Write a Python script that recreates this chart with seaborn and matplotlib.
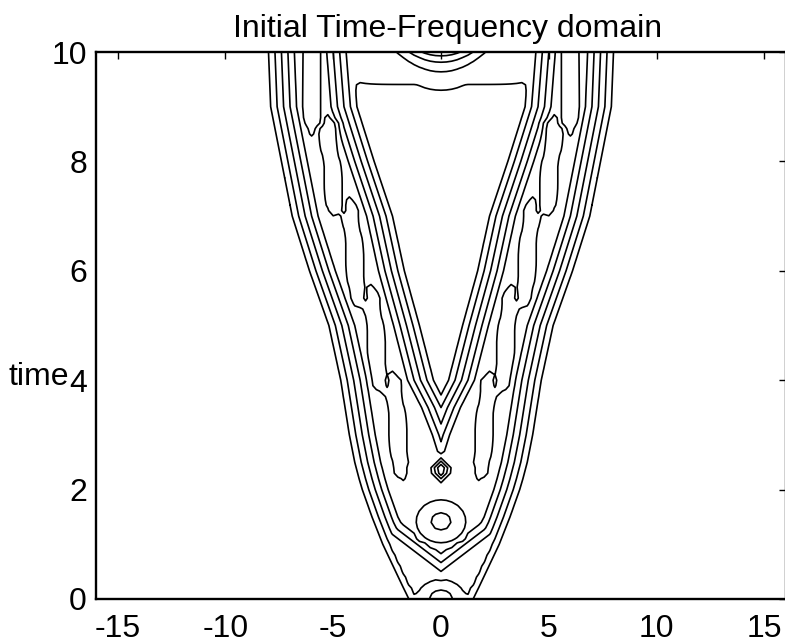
import numpy as np
import matplotlib
matplotlib.use("Agg")
import matplotlib.pyplot as plt
import seaborn as sns

# ---------------- values ----------------
title = "Initial Time-Frequency domain"
ylabel = "time"
x_ticks = [-15, -10, -5, 0, 5, 10, 15]
y_ticks = [0, 2, 4, 6, 8, 10]
x_range = [-16, 16]
t_range = [0, 10]

# lowest-level edge of the left lobe (outer side) and its inner side, per time
edge_t = [0, 0.5, 1, 1.5, 2, 2.2, 2.5, 3, 3.5, 4, 5, 6, 7, 8, 9, 10]
outer_edge = [-1.5, -2.1, -2.7, -3.2, -3.65, -3.8, -4.0, -4.25, -4.45,
              -4.65, -5.2, -6.1, -6.9, -7.4, -7.9, -8.0]
inner_edge = [1.5, 2.1, 2.7, 3.2, 3.65, 1.3, 1.2, 0.8, 0.3, -0.35,
              -1.0, -1.7, -2.25, -3.1, -3.9, -4.1]

# closed "islands" inside the left lobe (mirrored on the right lobe)
island_t_bottom = [2.4, 4.0, 5.55, 7.2, 8.75]
island_x_bottom = [-1.85, -2.85, -3.85, -4.9, -6.0]
island_t_top = [3.9, 5.47, 7.07, 8.6, 10.4]
island_x_top = [-2.2, -3.2, -4.2, -5.25, -5.95]

# peaks on the centre line
peak_t = [1.42, 2.36]
peak_height = [1.10, 1.40]
peak_half_x = [1.38, 0.62]
peak_half_t = [0.47, 0.24]
peak_norm = [2, 1]          # 2 = rounded, 1 = diamond shaped

# small dip at the bottom centre (x half-width^2, t half-width^2)
dip_size = [0.706, 0.0684]

# cap at the top between the lobes
cap_floor_t = [9.25, 9.50]
cap_floor_level = 0.16
cap_peak = 0.66

contour_levels = [0.1, 0.25, 0.4, 0.55, 0.7, 0.85, 1.0, 1.15, 1.3, 1.45]

# ---------------- build the time-frequency field ----------------
plateau = 0.8
ramp = 1.6
d0 = ramp * contour_levels[0] / plateau

x = np.arange(-16, 16.001, 0.25)
t = np.arange(0, 10.001, 0.1)
X, T = np.meshgrid(x, t)
out_e = np.interp(T, edge_t, outer_edge)
in_e = np.interp(T, edge_t, inner_edge)


def to_level(d):
    return plateau * np.clip((d + d0) / ramp, 0, 1)


def lobe(xx):
    d_side = np.minimum(xx - out_e, in_e - xx)
    d_bot = 1.85 * (T - 0.18 - 0.3 * np.abs(xx))
    side = to_level(d_side)
    dip = 1 - np.exp(-(xx ** 2 / dip_size[0] + T ** 2 / dip_size[1]))
    base = np.minimum(0.3, side) * dip
    return np.maximum(to_level(np.minimum(d_side, d_bot)), base)


def island_dist(xx, x1, t1, x2, t2):
    vx, vt = x2 - x1, t2 - t1
    length = np.hypot(vx, vt)
    u = ((xx - x1) * vx + (T - t1) * vt) / (length * length)
    perp = np.abs((xx - x1) * vt - (T - t1) * vx) / length
    beyond = np.maximum(np.maximum(-u, u - 1), 0) * length
    return perp + 1.3 * beyond


def islands(xx):
    res = np.full_like(xx, -1.0)
    for tb, xb, tt, xt in zip(island_t_bottom, island_x_bottom,
                              island_t_top, island_x_top):
        dist = island_dist(xx, xb, tb, xt, tt)
        res = np.maximum(res, np.minimum(0.95, 0.85 + 1.0 * (0.36 - dist)))
    return res


fields = [lobe(X), lobe(-X), islands(X), islands(-X)]
for pt, ph, ax_, at_, pn in zip(peak_t, peak_height, peak_half_x,
                                peak_half_t, peak_norm):
    r = (np.abs(X / ax_) ** pn + np.abs((T - pt) / at_) ** pn) ** (1.0 / pn)
    cone = plateau + (ph - plateau) * (1 - r)
    fields.append(np.where(r < 1, cone, 0) if pn == 2 else cone)

floor = cap_floor_level * np.clip((T - cap_floor_t[0]) /
                                  (cap_floor_t[1] - cap_floor_t[0]), 0, 1)
fields.append(floor * np.exp(-(X / 4.6) ** 8))
fields.append(cap_peak * np.exp(2.7 * (T - 10)) * np.exp(-(X / 2.1) ** 2))
F = np.max(np.stack(fields), axis=0)

# ---------------- draw ----------------
sns.set_style("white")
plt.rcParams["font.family"] = ["Liberation Sans", "DejaVu Sans"]
plt.rcParams["axes.unicode_minus"] = False
plt.rcParams["text.color"] = "black"
plt.rcParams["axes.labelcolor"] = "black"

fig = plt.figure(figsize=(7.85, 6.43), dpi=100)
ax = fig.add_axes([96 / 785, 44 / 643, 690 / 785, 547 / 643])
ax.contour(X, T, F, levels=contour_levels, colors="black", linewidths=1.2)

ax.set_xlim(x_range)
ax.set_ylim(t_range)
ax.set_xticks(x_ticks)
ax.set_yticks(y_ticks)
ax.tick_params(direction="in", length=4.8, width=1.0, top=True, right=True,
               labelsize=23, colors="black")
ax.tick_params(axis="x", pad=10.5)
ax.tick_params(axis="y", pad=6.5)
for s in ax.spines.values():
    s.set_linewidth(1.7)
    s.set_color("black")
ax.set_title(title, fontsize=23, pad=11, color="black", x=0.51)
ax.set_ylabel(ylabel, fontsize=23, rotation=0, ha="right", va="baseline",
              color="black")
ax.yaxis.set_label_coords((69 - 96) / 690, (599 - 385) / 547)

fig.savefig("out.png", dpi=100)
